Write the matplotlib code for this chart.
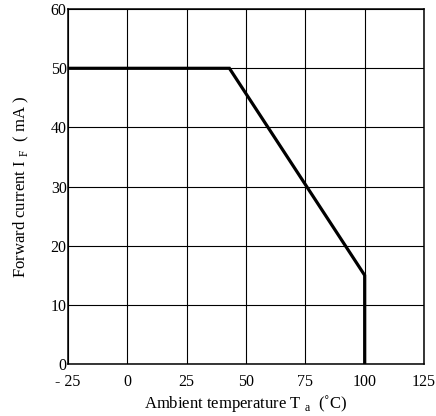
import matplotlib
matplotlib.use('Agg')
import matplotlib.pyplot as plt

# derating curve
temps = [-25, 43, 100, 100]
current = [50, 50, 15, 0]

xticks = [-25, 0, 25, 50, 75, 100, 125]
xtick_labels = ['- 25', '0', '25', '50', '75', '100', '125']
yticks = [0, 10, 20, 30, 40, 50, 60]

plt.rcParams['font.family'] = ['Liberation Serif', 'DejaVu Serif']
plt.rcParams['mathtext.fontset'] = 'custom'
plt.rcParams['mathtext.rm'] = 'Liberation Serif'

fig = plt.figure(figsize=(4.36, 4.16), dpi=100)
ax = fig.add_axes([0.156, 0.125, 0.8165, 0.853])

ax.plot(temps, current, color='black', linewidth=2.3, solid_joinstyle='miter', zorder=3)

ax.set_xlim(-25, 125)
ax.set_ylim(0, 60)
ax.set_xticks(xticks)
ax.set_xticklabels(xtick_labels)
ax.set_yticks(yticks)
ax.grid(True, color='black', linewidth=0.8)
ax.tick_params(length=0, labelsize=11.5)
ax.tick_params(axis='x', pad=7)
ax.tick_params(axis='y', pad=1)
for s in ax.spines.values():
    s.set_linewidth(1.1)

ax.set_xlabel('Ambient temperature T $_{\\rm a}$  (\u02daC)', fontsize=12, labelpad=2)
ax.set_ylabel('Forward current I $_{\\rm F}$  ( mA )', fontsize=12, labelpad=14)

plt.savefig('out.png', dpi=100)
